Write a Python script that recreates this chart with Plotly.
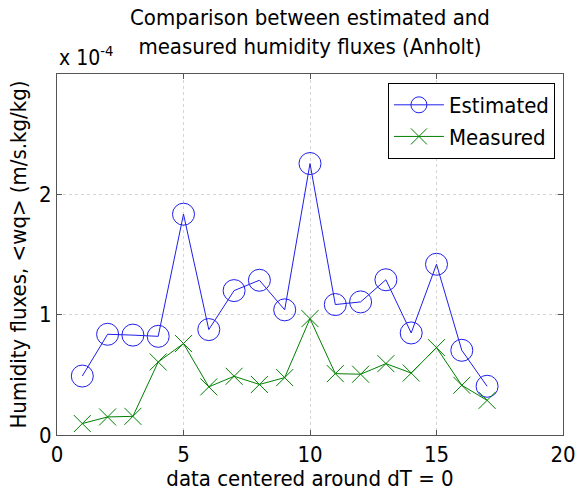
import plotly.graph_objects as go

x_vals = list(range(1, 18))
estimated = [0.49, 0.837, 0.83, 0.82, 1.835, 0.876, 1.20, 1.286, 1.04, 2.256,
             1.084, 1.106, 1.29, 0.848, 1.419, 0.704, 0.405]
measured = [0.095, 0.15, 0.155, 0.607, 0.76, 0.40, 0.488, 0.42, 0.477, 0.967,
            0.51, 0.505, 0.593, 0.515, 0.726, 0.413, 0.288]
scale = 1e-4
est = [v * scale for v in estimated]
meas = [v * scale for v in measured]

x_ticks = [0, 5, 10, 15, 20]
y_ticks = [0, 1, 2]
y_tick_labels = ["0", "1", "2"]

FONT = "DejaVu Sans Condensed, DejaVu Sans, sans-serif"

fig = go.Figure()
fig.add_trace(go.Scatter(
    x=x_vals, y=est, mode="lines+markers", name="Estimated",
    line=dict(color="rgb(30,30,235)", width=1),
    marker=dict(symbol="circle-open", size=22, color="rgb(30,30,235)", line=dict(width=1)),
))
fig.add_trace(go.Scatter(
    x=x_vals, y=meas, mode="lines+markers", name="Measured",
    line=dict(color="rgb(0,128,0)", width=1),
    marker=dict(symbol="x-thin-open", size=17, color="rgb(0,128,0)", line=dict(width=1, color="rgb(0,128,0)")),
))

axis_common = dict(
    showline=True, linecolor="#555", linewidth=1, mirror="ticks",
    ticks="inside", ticklen=5, tickcolor="#555",
    showgrid=True, gridcolor="#d4d4d4", griddash="dot", gridwidth=1,
    zeroline=False, automargin=False,
    tickfont=dict(size=22, color="black", family=FONT),
)

fig.update_layout(
    width=577, height=491,
    margin=dict(l=57, r=14, t=74, b=56),
    paper_bgcolor="white", plot_bgcolor="white",
    font=dict(family=FONT, color="black"),
    showlegend=True,
    legend=dict(x=0.654, y=0.975, xanchor="left", yanchor="top",
                bordercolor="black", borderwidth=1, bgcolor="white",
                font=dict(size=22, family=FONT, color="black"),
                itemwidth=50, tracegroupgap=0),
    xaxis=dict(range=[0, 20], tickvals=x_ticks,
               title=dict(text="data centered around dT = 0", font=dict(size=22), standoff=2),
               **axis_common),
    yaxis=dict(range=[0, 3e-4], tickvals=[v * scale for v in y_ticks], ticktext=y_tick_labels,
               title=dict(text="Humidity fluxes, &lt;wq&gt; (m/s.kg/kg)", font=dict(size=22), standoff=6),
               **axis_common),
    annotations=[
        dict(text="Comparison between estimated and<br>measured humidity fluxes (Anholt)",
             x=0.5, xref="paper", y=1 + (74 - 3) / 361.0, yref="paper", showarrow=False,
             font=dict(size=22), align="center", yanchor="top"),
        dict(text="x 10<sup>-4</sup>", x=0, xref="paper", y=1, yref="paper",
             xanchor="left", yanchor="bottom", yshift=2, showarrow=False,
             font=dict(size=21)),
    ],
)

fig.write_html("out.html")
